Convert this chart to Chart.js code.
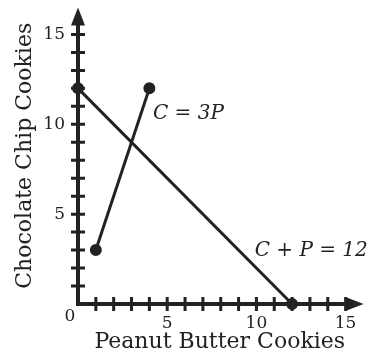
<!DOCTYPE html>
<html>
<head>
<meta charset="utf-8">
<script src="https://cdn.jsdelivr.net/npm/chart.js@4.4.1/dist/chart.umd.min.js"></script>
<style>
  html, body { margin: 0; padding: 0; background: #fff; }
  #wrap { width: 369px; height: 360px; }
</style>
</head>
<body>
<div id="wrap"><canvas id="cookies"></canvas></div>
<script>
// C = 3P segment
const tripleP = [1, 4];
const tripleC = [3, 12];
// C + P = 12 segment
const sumP = [0, 12];
const sumC = [12, 0];
const tickLabels = [5, 10, 15];
const tickCount = 15;

const ink = '#222';
const serif = '"DejaVu Serif", "Liberation Serif", serif';

const axesPlugin = {
    id: 'axes',
    beforeDatasetsDraw(chart) {
        const { ctx, scales: { x, y } } = chart;
        const x0 = x.getPixelForValue(0);
        const y0 = y.getPixelForValue(0);
        const xEnd = x.getPixelForValue(x.max) + 2;
        const yEnd = y.getPixelForValue(y.max);
        ctx.save();
        ctx.strokeStyle = ink;
        ctx.fillStyle = ink;

        // axis lines
        ctx.lineWidth = 4;
        ctx.beginPath();
        ctx.moveTo(x0 - 2, y0);
        ctx.lineTo(xEnd - 12, y0);
        ctx.moveTo(x0, y0 + 2);
        ctx.lineTo(x0, yEnd + 12);
        ctx.stroke();

        // arrow heads
        ctx.beginPath();
        ctx.moveTo(xEnd, y0);
        ctx.lineTo(xEnd - 18, y0 - 7);
        ctx.lineTo(xEnd - 18, y0 + 7);
        ctx.closePath();
        ctx.fill();
        ctx.beginPath();
        ctx.moveTo(x0, yEnd);
        ctx.lineTo(x0 - 7, yEnd + 18);
        ctx.lineTo(x0 + 7, yEnd + 18);
        ctx.closePath();
        ctx.fill();

        // ticks crossing the axes
        ctx.lineWidth = 3;
        ctx.beginPath();
        for (let i = 1; i <= tickCount; i++) {
            const px = x.getPixelForValue(i);
            ctx.moveTo(px, y0 - 7);
            ctx.lineTo(px, y0 + 7);
            const py = y.getPixelForValue(i);
            ctx.moveTo(x0 - 7, py);
            ctx.lineTo(x0 + 7, py);
        }
        ctx.stroke();

        // shared origin label
        ctx.font = '17px ' + serif;
        ctx.textAlign = 'center';
        ctx.textBaseline = 'middle';
        ctx.fillText('0', x0 - 8, y0 + 13);
        ctx.restore();
    },
    afterDatasetsDraw(chart) {
        const { ctx, scales: { x, y } } = chart;
        ctx.save();
        ctx.fillStyle = ink;
        ctx.font = 'italic 20px ' + serif;
        ctx.textAlign = 'left';
        ctx.textBaseline = 'middle';
        ctx.fillText('C = 3P', x.getPixelForValue(4.2), y.getPixelForValue(10.6));
        ctx.fillText('C + P = 12', x.getPixelForValue(9.9), y.getPixelForValue(2.95));
        ctx.restore();
    }
};

const segment = (xs, ys) => xs.map((v, i) => ({ x: v, y: ys[i] }));
const fixedTicks = s => { s.ticks = tickLabels.map(v => ({ value: v })); };
const noPadding = s => {
    s.paddingTop = 0;
    s.paddingBottom = 0;
    s.paddingLeft = 0;
    s.paddingRight = 0;
};

new Chart(document.getElementById('cookies'), {
    type: 'scatter',
    data: {
        datasets: [
            {
                label: 'C = 3P',
                data: segment(tripleP, tripleC),
                showLine: true,
                borderColor: ink,
                backgroundColor: ink,
                borderWidth: 3,
                pointRadius: 4.5,
                clip: false
            },
            {
                label: 'C + P = 12',
                data: segment(sumP, sumC),
                showLine: true,
                borderColor: ink,
                backgroundColor: ink,
                borderWidth: 3,
                pointRadius: 4.5,
                clip: false
            }
        ]
    },
    options: {
        responsive: true,
        maintainAspectRatio: false,
        animation: false,
        layout: { padding: { top: 7, right: 2, left: 0, bottom: 0 } },
        plugins: {
            legend: { display: false },
            tooltip: { enabled: false }
        },
        scales: {
            x: {
                type: 'linear',
                min: 0,
                max: 15.89,
                afterBuildTicks: fixedTicks,
                afterFit: s => { s.height = 56; noPadding(s); },
                grid: { display: false, drawTicks: false },
                border: { display: false },
                ticks: {
                    autoSkip: false,
                    maxRotation: 0,
                    padding: 9,
                    color: ink,
                    font: { family: serif, size: 17 }
                },
                title: {
                    display: true,
                    text: 'Peanut Butter Cookies',
                    color: ink,
                    font: { family: serif, size: 22 },
                    padding: { top: 0, bottom: 5 }
                }
            },
            y: {
                type: 'linear',
                min: 0,
                max: 16.5,
                afterBuildTicks: fixedTicks,
                afterFit: s => { s.width = 78; noPadding(s); },
                grid: { display: false, drawTicks: false },
                border: { display: false },
                ticks: {
                    autoSkip: false,
                    padding: 13,
                    color: ink,
                    font: { family: serif, size: 17 }
                },
                title: {
                    display: true,
                    text: 'Chocolate Chip Cookies',
                    color: ink,
                    font: { family: serif, size: 22 },
                    padding: { top: 12, bottom: 0 }
                }
            }
        }
    },
    plugins: [axesPlugin]
});
</script>
</body>
</html>
